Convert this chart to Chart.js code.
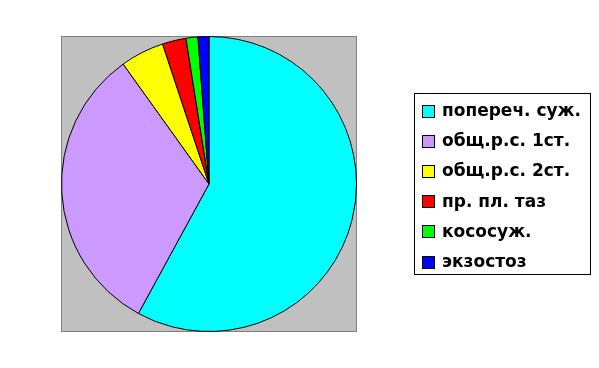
<!DOCTYPE html>
<html>
<head>
<meta charset="utf-8">
<script src="https://cdn.jsdelivr.net/npm/chart.js@4/dist/chart.umd.min.js"></script>
<style>
html,body{margin:0;padding:0;background:#fff;}
canvas{display:block;}
</style>
</head>
<body>
<canvas id="c" width="599" height="368"></canvas>
<script>
const categories = ['попереч. суж.', 'общ.р.с. 1ст.', 'общ.р.с. 2ст.', 'пр. пл. таз', 'кососуж.', 'экзостоз'];
const values = [58.0, 32.2, 4.8, 2.6, 1.3, 1.2];
const colors = ['#00FFFF', '#CC99FF', '#FFFF00', '#FF0000', '#00FF00', '#0000FF'];

const plotBg = {
  id: 'plotBg',
  beforeDraw(chart) {
    const {ctx, chartArea: a} = chart;
    ctx.save();
    ctx.fillStyle = '#C0C0C0';
    ctx.fillRect(a.left, a.top, a.right - a.left, a.bottom - a.top);
    ctx.strokeStyle = '#808080';
    ctx.lineWidth = 1;
    ctx.strokeRect(a.left + 0.5, a.top + 0.5, a.right - a.left - 1, a.bottom - a.top - 1);
    ctx.restore();
  }
};

const boxLegend = {
  id: 'boxLegend',
  afterDraw(chart) {
    const {ctx} = chart;
    const labels = chart.data.labels;
    const bg = chart.data.datasets[0].backgroundColor;
    ctx.save();
    ctx.fillStyle = '#fff';
    ctx.fillRect(414, 93, 176, 181);
    ctx.strokeStyle = '#000';
    ctx.lineWidth = 1;
    ctx.strokeRect(414.5, 93.5, 176, 181);
    ctx.font = 'bold 17px "DejaVu Sans", sans-serif';
    ctx.textBaseline = 'middle';
    ctx.textAlign = 'left';
    labels.forEach((lab, i) => {
      const cy = 110.5 + i * 30.2;
      const y0 = Math.round(cy - 6);
      ctx.fillStyle = bg[i];
      ctx.fillRect(422, y0, 13, 13);
      ctx.strokeStyle = '#000';
      ctx.strokeRect(422.5, y0 + 0.5, 12, 12);
      ctx.fillStyle = '#000';
      ctx.fillText(lab, 442, cy + 1);
    });
    ctx.restore();
  }
};

new Chart(document.getElementById('c'), {
  type: 'pie',
  data: {
    labels: categories,
    datasets: [{
      data: values,
      backgroundColor: colors,
      borderColor: '#000',
      borderWidth: 1
    }]
  },
  options: {
    responsive: false,
    animation: false,
    layout: {padding: {left: 61, right: 242, top: 36, bottom: 36}},
    plugins: {legend: {display: false}, tooltip: {enabled: false}}
  },
  plugins: [plotBg, boxLegend]
});
</script>
</body>
</html>
